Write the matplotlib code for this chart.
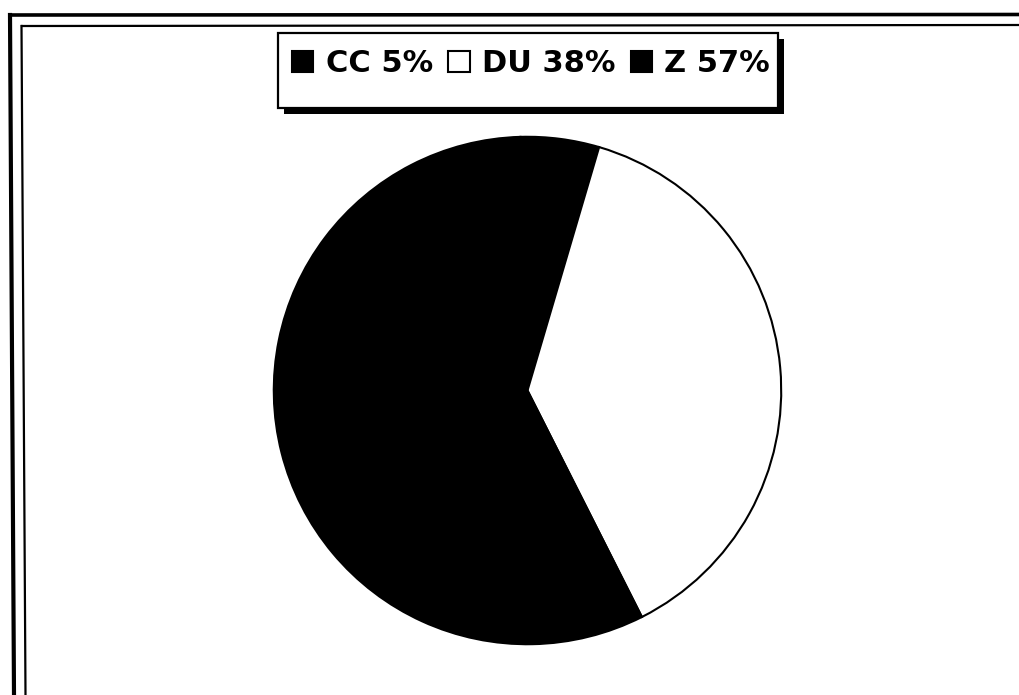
import matplotlib
matplotlib.use("Agg")
import matplotlib.pyplot as plt
from matplotlib.patches import Patch, Rectangle
from matplotlib.lines import Line2D

categories = ["CC", "DU", "Z"]
values = [5, 38, 57]
colors = ["black", "white", "black"]
legend_labels = [f"{c} {v}%" for c, v in zip(categories, values)]

W, H = 1020, 695
fig = plt.figure(figsize=(W / 100, H / 100), dpi=100)
fig.patch.set_facecolor("white")

def fx(px):
    return px / W

def fy(py):
    return 1 - py / H

# page border lines (scanned frame)
for (x0, y0, x1, y1, lw) in [
    (12, 15, 1020, 14.5, 2.6),
    (22, 26, 1020, 25, 1.6),
    (10, 15, 14, 695, 3.0),
    (21.5, 26, 25.5, 695, 1.6),
]:
    fig.add_artist(Line2D([fx(x0), fx(x1)], [fy(y0), fy(y1)], color="black", lw=lw,
                          transform=fig.transFigure))

# pie
cx, cy, R = 527.5, 390.5, 255
ax = fig.add_axes([fx(cx - R), fy(cy + R), 2 * R / W, 2 * R / H])
ax.pie(values, colors=colors, startangle=91.6, counterclock=False, radius=0.995,
       wedgeprops=dict(edgecolor="black", linewidth=1.5))
ax.set_xlim(-1, 1)
ax.set_ylim(-1, 1)
ax.set_aspect("equal")
ax.axis("off")

# legend box with solid shadow
bx0, by0, bx1, by1 = 278, 33, 778, 108
fig.add_artist(Rectangle((fx(bx0 + 6), fy(by1 + 6)), fx(bx1 - bx0), (by1 - by0) / H,
                         facecolor="black", edgecolor="none", transform=fig.transFigure))
fig.add_artist(Rectangle((fx(bx0), fy(by1)), fx(bx1 - bx0), (by1 - by0) / H,
                         facecolor="white", edgecolor="black", lw=1.6, transform=fig.transFigure))

handles = [Patch(facecolor=c, edgecolor="black", linewidth=1.5) for c in colors]
leg = fig.legend(handles, legend_labels, loc="center left", ncol=3,
                 bbox_to_anchor=(fx(bx0 + 14), fy(64)), bbox_transform=fig.transFigure,
                 frameon=False, borderpad=0, borderaxespad=0,
                 handlelength=0.7, handleheight=0.68, handletextpad=0.4,
                 columnspacing=0.5,
                 prop=dict(family="DejaVu Sans", weight="bold", size=22))

fig.savefig("out.png", dpi=100, facecolor="white")
